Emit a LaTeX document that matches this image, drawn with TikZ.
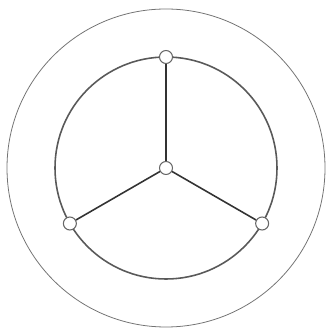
\documentclass[tikz,border=0pt]{standalone}
\usepackage{tikz}
\usetikzlibrary{calc}
\tikzset{
    joint/.style={circle, draw=black!60, fill=white, line width=0.6pt, minimum size=0.26cm, inner sep=0pt},
    rim/.style={draw=black!65, line width=0.9pt},
    outerring/.style={draw=black!55, line width=0.45pt},
    spoke/.style={draw=black!80, line width=0.9pt}
}
\begin{document}
\begin{tikzpicture}[x=0.02cm, y=0.02cm]
        \useasboundingbox (0,0) rectangle (325,334);
        % Rings
        \coordinate (c) at (166,166);
        \draw[outerring] (c) circle[radius=159];
        \draw[rim] (c) circle[radius=111];
        
        % Joints
        \node (hub) [joint] at (c) {};
        \node (top) [joint] at ($(c)+(90:111)$) {};
        \node (left) [joint] at ($(c)+(210:111)$) {};
        \node (right) [joint] at ($(c)+(330:111)$) {};
        
        % Spokes
        \draw[spoke] (hub) -- (top);
        \draw[spoke] (hub) -- (left);
        \draw[spoke] (hub) -- (right);
    \end{tikzpicture}
\end{document}
